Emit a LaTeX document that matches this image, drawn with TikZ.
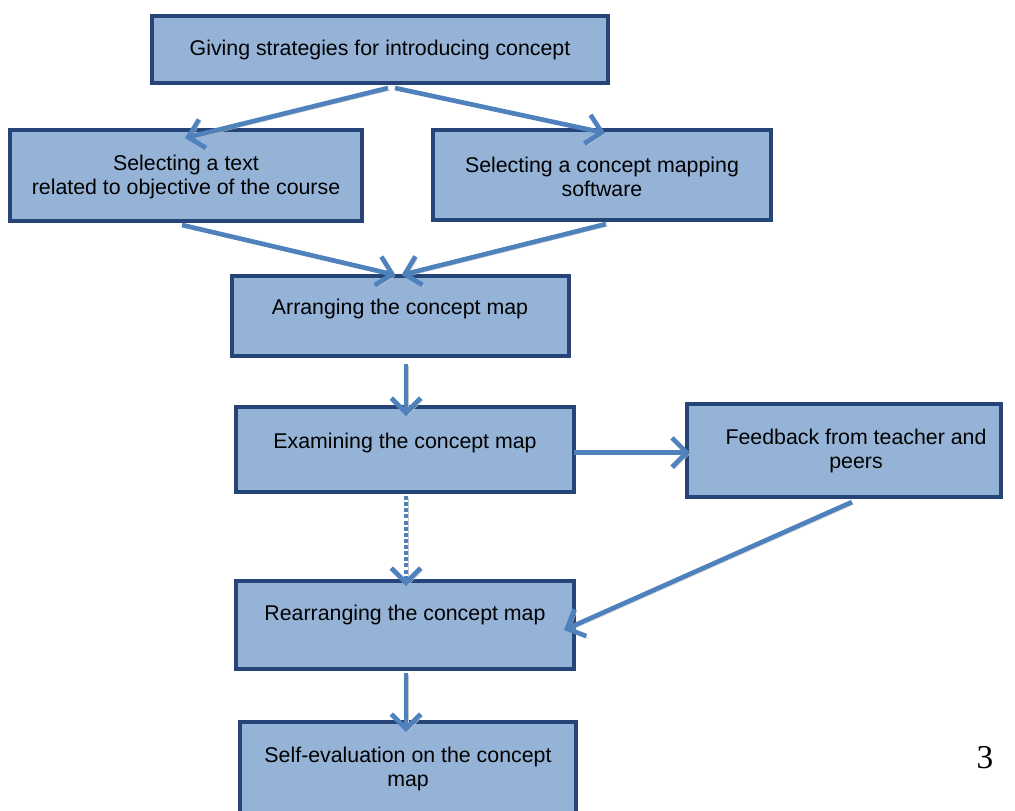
\documentclass[tikz,border=0pt]{standalone}
\usepackage{fontspec}
\setmainfont{Liberation Sans}
\newfontfamily\pagenumfont{Liberation Serif}
\usetikzlibrary{arrows.meta,calc}
\definecolor{boxfill}{RGB}{149,179,215}
\definecolor{boxline}{RGB}{38,68,120}
\definecolor{arrowblue}{RGB}{79,129,189}
\begin{document}
\begin{tikzpicture}[x=0.75pt,y=-0.75pt,
  box/.style={draw=boxline, line width=3pt, fill=boxfill, inner sep=0pt, rectangle},
  txt/.style={font=\fontsize{16}{18}\selectfont, align=center, text=black, inner sep=0pt},
  conn/.style={draw=arrowblue, line width=3.5pt, -{Straight Barb[length=11pt,width=22pt,line width=3.5pt]},
    preaction={draw=gray!45, transform canvas={shift={(1.6pt,-1.6pt)}}}},
  dashconn/.style={conn, dash pattern=on 3pt off 1.6pt}]
\useasboundingbox (0,0) rectangle (1015,811);
\clip (0,0) rectangle (1015,811);

% boxes
\node[box, minimum width=456*0.75pt, minimum height=67*0.75pt] (top) at (380,49.5) {};
\node[box, minimum width=352*0.75pt, minimum height=91*0.75pt] (left) at (186,175.5) {};
\node[box, minimum width=338*0.75pt, minimum height=90*0.75pt] (right) at (602,175) {};
\node[box, minimum width=337*0.75pt, minimum height=80*0.75pt] (arr) at (400.5,316) {};
\node[box, minimum width=338*0.75pt, minimum height=85*0.75pt] (exam) at (405,449.5) {};
\node[box, minimum width=314*0.75pt, minimum height=93*0.75pt] (feed) at (844,450.5) {};
\node[box, minimum width=338*0.75pt, minimum height=88*0.75pt] (rearr) at (405,625) {};
\node[box, minimum width=336*0.75pt, minimum height=92*0.75pt] (self) at (408,768) {};

% texts
\node[txt] (ttop) at (380,50) {Giving strategies for introducing concept};
\node[txt] (tleft) at (186,177) {Selecting a text\\related to objective of the course};
\node[txt] (tright) at (602,177) {Selecting a concept mapping\\software};
\node[txt] (tarr) at (400,309) {Arranging the concept map};
\node[txt] (texam) at (405,443) {Examining the concept map};
\node[txt] (tfeed) at (856,451) {Feedback from teacher and\\peers};
\node[txt] (trearr) at (405,615) {Rearranging the concept map};
\node[txt] (tself) at (408,769) {Self-evaluation on the concept\\map};
\node[font=\pagenumfont\fontsize{25}{30}\selectfont, inner sep=0pt] (pnum) at (985,758) {3};

% connectors
\draw[conn] ($(top.south)+(8,3)$) -- ($(left.north)+(-1,10)$);
\draw[conn] ($(top.south)+(15,3)$) -- ($(right.north)+(3,5)$);
\draw[conn] ($(left.south)+(-4,2)$) -- ($(arr.north)+(-5,1)$);
\draw[conn] ($(right.south)+(4,2)$) -- ($(arr.north)+(1,1)$);
\draw[conn] ($(arr.south)+(5.5,6)$) -- ($(exam.north)+(1,11)$);
\draw[conn] ($(exam.east)+(-2,3)$) -- ($(feed.west)+(5,2)$);
\draw[dashconn] ($(exam.south)+(1,2)$) -- ($(rearr.north)+(1,7)$);
\draw[conn] ($(feed.south)+(8,3)$) -- ($(rearr.east)+(-12,5)$);
\draw[conn] ($(rearr.south)+(1,2)$) -- ($(self.north)+(-2,12)$);
\end{tikzpicture}
\end{document}
